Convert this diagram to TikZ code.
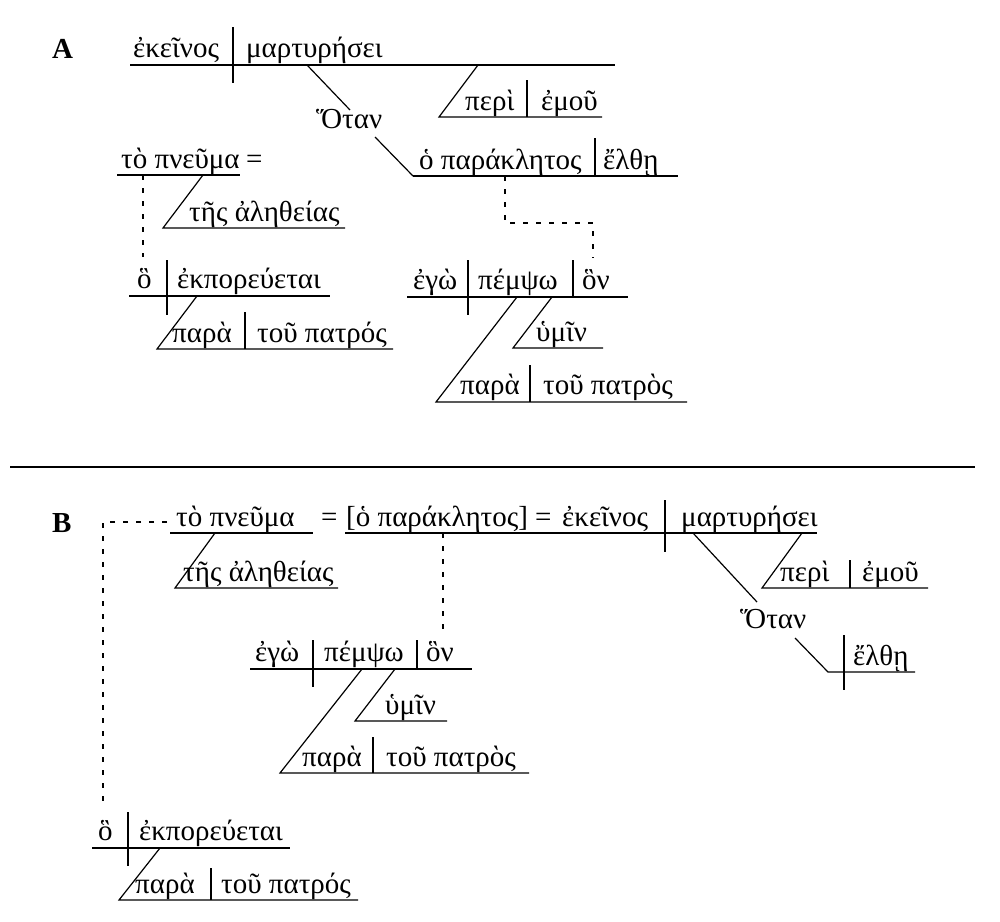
\documentclass[tikz,border=0pt]{standalone}
\usepackage{fontspec}
\setmainfont{Liberation Serif}
\begin{document}
\begin{tikzpicture}[x=1pt,y=-1pt,
  ln/.style={line width=1.2pt},
  dl/.style={line width=1.2pt, dash pattern=on 5pt off 8pt},
  w/.style={anchor=base west, inner sep=0pt, font=\fontsize{29}{32}\selectfont},
  lab/.style={anchor=base west, inner sep=0pt, font=\fontsize{29}{32}\selectfont\bfseries}]
\useasboundingbox (0,0) rectangle (1000,921);

% ================= PART A =================
\node[lab] (labA) at (52,58) {A};
% main clause
\node[w] (aSub) at (133,57) {ἐκεῖνος};
\node[w] (aVerb) at (246,57) {μαρτυρήσει};
\draw[ln] (130,65) coordinate (aMainL) -- (615,65) coordinate (aMainR);
\draw[ln] (233,27) -- (233,83);
% περὶ ἐμοῦ
\coordinate (aPeriTop) at (478,65);
\coordinate (aPeriBot) at (439,117);
\draw[ln] (aPeriTop) -- (aPeriBot) -- (602,117);
\draw[ln] (527,80) -- (527,117);
\node[w] (aPeri) at (465,110) {περὶ};
\node[w] (aEmou) at (541,110) {ἐμοῦ};
% Ὅταν clause
\node[w] (aOtan) at (316,128) {Ὅταν};
\coordinate (aOtTop) at (307,65);
\coordinate (aOtBot) at (413,176);
\draw[ln] (aOtTop) -- (350,110);
\draw[ln] (375,137) -- (aOtBot);
\draw[ln] (aOtBot) -- (678,176);
\node[w] (aPara) at (419,169) {ὁ παράκλητος};
\draw[ln] (595,138) -- (595,176);
\node[w] (aElthe) at (603,169) {ἔλθῃ};
% dashed link to ὃν
\coordinate (aDashA) at (505,176);
\coordinate (aDashB) at (593,258);
\draw[dl] (aDashA) -- (505,223) -- (593,223) -- (aDashB);
% ἐγὼ πέμψω ὃν
\draw[ln] (407,297) -- (628,297);
\node[w] (aEgo) at (413,289) {ἐγὼ};
\draw[ln] (468,260) -- (468,315);
\node[w] (aPempso) at (478,289) {πέμψω};
\draw[ln] (573,260) -- (573,297);
\node[w] (aHon) at (582,289) {ὃν};
\coordinate (aD1T) at (517,297);
\coordinate (aD1B) at (436,402);
\draw[ln] (aD1T) -- (aD1B) -- (687,402);
\draw[ln] (530,365) -- (530,402);
\node[w] (aPara2) at (460,394) {παρὰ};
\node[w] (aTouP2) at (543,394) {τοῦ πατρὸς};
\coordinate (aD2T) at (552,297);
\coordinate (aD2B) at (513,348);
\draw[ln] (aD2T) -- (aD2B) -- (603,348);
\node[w] (aHymin) at (536,341) {ὑμῖν};
% τὸ πνεῦμα
\draw[ln] (117,175) -- (240,175);
\node[w] (aPneuma) at (121,168) {τὸ πνεῦμα};
\node[w] (aEq) at (246,168) {=};
\coordinate (aTesT) at (203,175);
\coordinate (aTesB) at (163,228);
\draw[ln] (aTesT) -- (aTesB) -- (345,228);
\node[w] (aTes) at (189,221) {τῆς ἀληθείας};
\coordinate (aDotT) at (143,175);
\coordinate (aDotB) at (143,257);
\draw[dl] (aDotT) -- (aDotB);
% ὃ ἐκπορεύεται
\draw[ln] (129,296) -- (330,296);
\node[w] (aHo) at (137,288) {ὃ};
\draw[ln] (167,260) -- (167,315);
\node[w] (aEkp) at (177,288) {ἐκπορεύεται};
\coordinate (aPpT) at (197,296);
\coordinate (aPpB) at (157,349);
\draw[ln] (aPpT) -- (aPpB) -- (393,349);
\draw[ln] (245,312) -- (245,349);
\node[w] (aPara3) at (172,342) {παρὰ};
\node[w] (aTouP3) at (257,342) {τοῦ πατρός};

% separator
\draw[line width=2.5pt] (10,467) coordinate (sepL) -- (975,467) coordinate (sepR);

% ================= PART B =================
\node[lab] (labB) at (52,532) {B};
\coordinate (bDashS) at (167,522);
\coordinate (bDashE) at (103,808);
\draw[dl] (bDashS) -- (103,522) -- (bDashE);
\draw[ln] (170,533) -- (313,533);
\node[w] (bPneuma) at (176,526) {τὸ πνεῦμα};
\node[w] (bEq1) at (321,526) {=};
\coordinate (bTesT) at (215,533);
\coordinate (bTesB) at (175,588);
\draw[ln] (bTesT) -- (bTesB) -- (338,588);
\node[w] (bTes) at (183,581) {τῆς ἀληθείας};
% main line
\draw[ln] (345,533) -- (817,533);
\node[w] (bPara) at (346,526) {[ὁ παράκλητος]};
\node[w] (bEq2) at (535,526) {=};
\node[w] (bEkeinos) at (562,526) {ἐκεῖνος};
\draw[ln] (665,500) -- (665,552);
\node[w] (bVerb) at (681,526) {μαρτυρήσει};
\coordinate (bDotT) at (443,533);
\coordinate (bDotB) at (443,636);
\draw[dl] (bDotT) -- (bDotB);
% περὶ ἐμοῦ
\coordinate (bPeriT) at (802,533);
\coordinate (bPeriB) at (762,588);
\draw[ln] (bPeriT) -- (bPeriB) -- (928,588);
\draw[ln] (850,560) -- (850,588);
\node[w] (bPeri) at (780,581) {περὶ};
\node[w] (bEmou) at (862,581) {ἐμοῦ};
% Ὅταν
\coordinate (bOtT) at (693,533);
\coordinate (bOtB) at (828,672);
\draw[ln] (bOtT) -- (757,602);
\node[w] (bOtan) at (740,628) {Ὅταν};
\draw[ln] (795,638) -- (bOtB) -- (915,672);
\draw[ln] (844,635) -- (844,690);
\node[w] (bElthe) at (853,665) {ἔλθῃ};
% ἐγὼ πέμψω ὃν
\draw[ln] (250,669) -- (472,669);
\node[w] (bEgo) at (255,661) {ἐγὼ};
\draw[ln] (313,640) -- (313,687);
\node[w] (bPempso) at (324,661) {πέμψω};
\draw[ln] (417,640) -- (417,669);
\node[w] (bHon) at (426,661) {ὃν};
\coordinate (bD1T) at (362,669);
\coordinate (bD1B) at (280,773);
\draw[ln] (bD1T) -- (bD1B) -- (529,773);
\draw[ln] (373,737) -- (373,773);
\node[w] (bPara2) at (302,766) {παρὰ};
\node[w] (bTouP2) at (386,766) {τοῦ πατρὸς};
\coordinate (bD2T) at (395,669);
\coordinate (bD2B) at (355,721);
\draw[ln] (bD2T) -- (bD2B) -- (447,721);
\node[w] (bHymin) at (385,714) {ὑμῖν};
% ὃ ἐκπορεύεται
\draw[ln] (92,848) -- (290,848);
\node[w] (bHo) at (98,840) {ὃ};
\draw[ln] (128,812) -- (128,866);
\node[w] (bEkp) at (139,840) {ἐκπορεύεται};
\coordinate (bPpT) at (160,848);
\coordinate (bPpB) at (119,900);
\draw[ln] (bPpT) -- (bPpB) -- (358,900);
\draw[ln] (211,868) -- (211,900);
\node[w] (bPara3) at (135,893) {παρὰ};
\node[w] (bTouP3) at (221,893) {τοῦ πατρός};
\end{tikzpicture}
\end{document}
